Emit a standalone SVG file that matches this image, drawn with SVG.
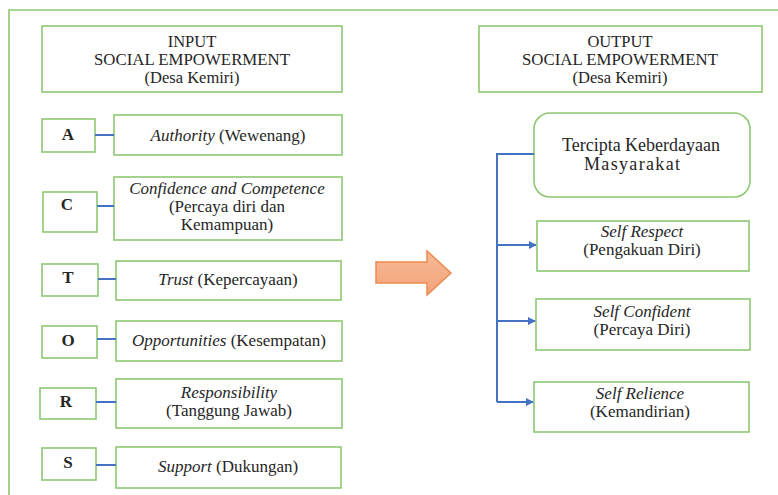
<svg xmlns="http://www.w3.org/2000/svg" width="778" height="495" viewBox="0 0 778 495" font-family="'Liberation Serif', 'Times New Roman', 'DejaVu Serif', serif">
<style>
.box{fill:#fff;stroke:#8dc872;stroke-width:1.6}
text{font-family:'Liberation Serif','Times New Roman','DejaVu Serif',serif}
.t{font-size:17px;fill:#262626;text-anchor:middle}
.h{font-size:16.5px}
.b{font-weight:bold}
.i{font-style:italic}
.big{font-size:18px}
.con{stroke:#4472c4;stroke-width:2;fill:none}
</style>
<defs>
<marker id="ah" viewBox="0 0 10 10" refX="9" refY="5" markerWidth="4" markerHeight="4" orient="auto" markerUnits="strokeWidth">
<path d="M0,0 L10,5 L0,10 z" fill="#4472c4"/>
</marker>
<linearGradient id="og" x1="0" y1="0" x2="0" y2="1">
<stop offset="0" stop-color="#f7b996"/>
<stop offset="1" stop-color="#f2a47a"/>
</linearGradient>
</defs>
<rect width="778" height="495" fill="#fff"/>
<g id="frame">
<path d="M9,500 L9,10 L780,10" fill="none" stroke="#8dc872" stroke-width="1.6"/>
</g>
<g id="input-header">
<rect class="box" x="42" y="26" width="300" height="66"/>
<text class="t h" x="192" y="47">INPUT</text>
<text class="t h" x="192" y="65" textLength="196" lengthAdjust="spacingAndGlyphs">SOCIAL EMPOWERMENT</text>
<text class="t h" x="192" y="83">(Desa Kemiri)</text>
</g>
<g id="output-header">
<rect class="box" x="479" y="26" width="283" height="66"/>
<text class="t h" x="620" y="47">OUTPUT</text>
<text class="t h" x="620" y="65" textLength="196" lengthAdjust="spacingAndGlyphs">SOCIAL EMPOWERMENT</text>
<text class="t h" x="620" y="83">(Desa Kemiri)</text>
</g>
<g id="A">
<rect class="box" x="42" y="119" width="53" height="33"/>
<text class="t b" x="68" y="140">A</text>
</g>
<g id="authority">
<rect class="box" x="114" y="115" width="228" height="40"/>
<text class="t" x="228" y="141"><tspan class="i">Authority</tspan> (Wewenang)</text>
</g>
<g id="C">
<rect class="box" x="43" y="192" width="54" height="40"/>
<text class="t b" x="67" y="210">C</text>
</g>
<g id="confidence">
<rect class="box" x="114" y="177" width="228" height="63"/>
<text class="t i" x="227" y="194">Confidence and Competence</text>
<text class="t" x="227" y="212">(Percaya diri dan</text>
<text class="t" x="227" y="230">Kemampuan)</text>
</g>
<g id="T">
<rect class="box" x="42" y="264" width="56" height="32"/>
<text class="t b" x="68" y="283">T</text>
</g>
<g id="trust">
<rect class="box" x="116" y="261" width="225" height="39"/>
<text class="t" x="228" y="285"><tspan class="i">Trust</tspan> (Kepercayaan)</text>
</g>
<g id="O">
<rect class="box" x="42" y="326" width="55" height="32"/>
<text class="t b" x="68" y="346">O</text>
</g>
<g id="opportunities">
<rect class="box" x="116" y="321" width="226" height="40"/>
<text class="t" x="229" y="346"><tspan class="i">Opportunities</tspan> (Kesempatan)</text>
</g>
<g id="R">
<rect class="box" x="40" y="388" width="56" height="31"/>
<text class="t b" x="66" y="407">R</text>
</g>
<g id="responsibility">
<rect class="box" x="116" y="379" width="226" height="49"/>
<text class="t i" x="229" y="398">Responsibility</text>
<text class="t" x="229" y="416">(Tanggung Jawab)</text>
</g>
<g id="S">
<rect class="box" x="42" y="448" width="54" height="32"/>
<text class="t b" x="68" y="468">S</text>
</g>
<g id="support">
<rect class="box" x="116" y="447" width="225" height="41"/>
<text class="t" x="228" y="472"><tspan class="i">Support</tspan> (Dukungan)</text>
</g>
<g id="big-arrow">
<path d="M376,262 L427,262 L427,251 L451,273 L427,295 L427,283 L376,283 Z" fill="url(#og)" stroke="#ed8a4f" stroke-width="1.5"/>
</g>
<g id="tercipta">
<rect class="box" x="534" y="113" width="216" height="84" rx="16" ry="16"/>
<text class="t big" x="641" y="151">Tercipta Keberdayaan</text>
<text class="t big" x="632" y="170" textLength="96" lengthAdjust="spacing">Masyarakat</text>
</g>
<g id="self-respect">
<rect class="box" x="537" y="221" width="212" height="50"/>
<text class="t i" x="642" y="237">Self Respect</text>
<text class="t" x="642" y="255">(Pengakuan Diri)</text>
</g>
<g id="self-confident">
<rect class="box" x="536" y="299" width="214" height="51"/>
<text class="t i" x="642" y="317">Self Confident</text>
<text class="t" x="642" y="335">(Percaya Diri)</text>
</g>
<g id="self-relience">
<rect class="box" x="534" y="382" width="215" height="50"/>
<text class="t i" x="640" y="399">Self Relience</text>
<text class="t" x="640" y="417">(Kemandirian)</text>
</g>
<g id="connectors">
<line class="con" x1="95" y1="135" x2="114" y2="135"/>
<line class="con" x1="97" y1="206" x2="114" y2="206"/>
<line class="con" x1="98" y1="279" x2="116" y2="279"/>
<line class="con" x1="97" y1="339" x2="116" y2="339"/>
<line class="con" x1="96" y1="402" x2="116" y2="402"/>
<line class="con" x1="96" y1="465" x2="116" y2="465"/>
<path class="con" d="M534,154 L497,154 L497,402"/>
<line class="con" x1="497" y1="245" x2="536" y2="245" marker-end="url(#ah)"/>
<line class="con" x1="497" y1="321" x2="535" y2="321" marker-end="url(#ah)"/>
<line class="con" x1="497" y1="402" x2="533" y2="402" marker-end="url(#ah)"/>
</g>
</svg>
